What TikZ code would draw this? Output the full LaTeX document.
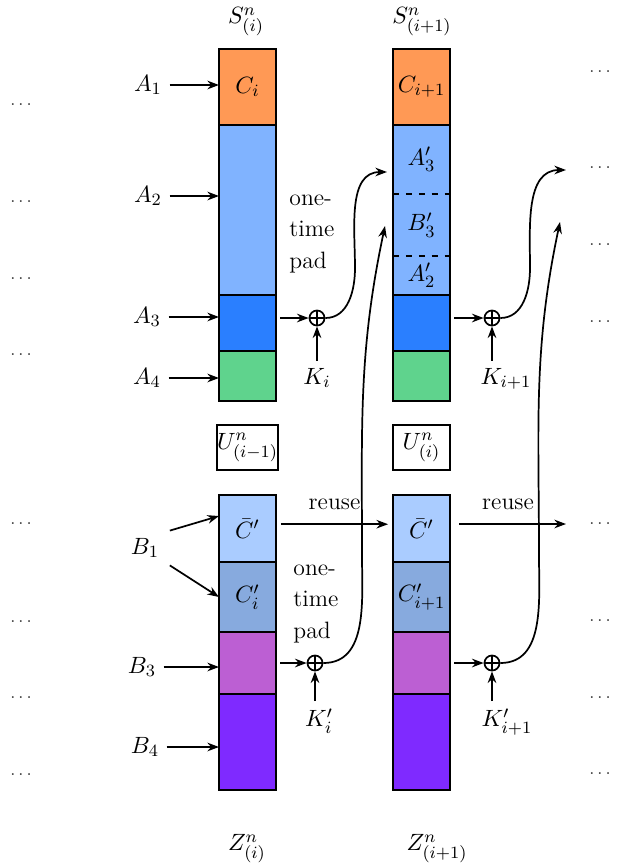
\documentclass[tikz,border=0pt]{standalone}
\usepackage{amsmath,amssymb}
\usetikzlibrary{arrows.meta, positioning, calc}

\newcommand{\pxu}{0.465pt}
\definecolor{corange}{HTML}{FF9955}
\definecolor{clight}{HTML}{80B3FF}
\definecolor{cdark}{HTML}{2A7FFF}
\definecolor{cgreen}{HTML}{5FD38D}
\definecolor{cpale}{HTML}{AACCFF}
\definecolor{cgrey}{HTML}{87AADE}
\definecolor{cpurple}{HTML}{BC5FD3}
\definecolor{cviolet}{HTML}{7F2AFF}

\begin{document}
\begin{tikzpicture}[
    x=\pxu, y=-\pxu,
    node distance=0pt,
    every node/.style={font=\fontsize{11pt}{13.6pt}\selectfont},
    block/.style={rectangle, draw=black, line width=1.1pt, outer sep=0pt, inner sep=0pt, minimum width=57*\pxu, text centered},
    blockfill/.style={rectangle, draw=none, outer sep=0pt, inner sep=0pt, minimum width=57*\pxu, text centered},
    arrow/.style={thick,-{Stealth[length=5.4pt,width=4pt]}},
    xorop/.style={circle, draw=black, thick, minimum size=7pt, inner sep=0pt,
        path picture={\draw[thick] (path picture bounding box.north) -- (path picture bounding box.south)
            (path picture bounding box.west) -- (path picture bounding box.east);}},
    pad/.style={align=left, inner sep=0pt},
    dots/.style={font=\footnotesize, inner sep=0pt, text=black!80},
]
    \useasboundingbox (0,0) rectangle (621,867);

    % State column i
    \node (s0) at (246,22) {$S^n_{(i)}$};
    \node (ci0) [block, fill=corange, minimum height=76*\pxu] at (247.5,87) {$C_i$};
    \node (a2blk0) [block, fill=clight, minimum height=170*\pxu, below=of ci0] {};
    \node (a3blk0) [block, fill=cdark, minimum height=56*\pxu, below=of a2blk0] {};
    \node (a4blk0) [block, fill=cgreen, minimum height=50*\pxu, below=of a3blk0] {};

    % State column i+1
    \node (s1) at (422,22) {$S^n_{(i+1)}$};
    \node (ci1) [block, fill=corange, minimum height=76*\pxu] at (421.5,87) {$C_{i+1}$};
    \node (a3p) [blockfill, fill=clight, minimum height=69*\pxu, below=of ci1] {$A'_3$};
    \node (b3p) [blockfill, fill=clight, minimum height=62*\pxu, below=of a3p] {$B'_3$};
    \node (a2p) [blockfill, fill=clight, minimum height=39*\pxu, below=of b3p] {$A'_2$};
    \draw [line width=1.1pt] (a3p.north west) rectangle (a2p.south east);
    \draw [thick, dashed] (a3p.south west) -- (a3p.south east);
    \draw [thick, dashed] (b3p.south west) -- (b3p.south east);
    \node (a3blk1) [block, fill=cdark, minimum height=56*\pxu, below=of a2p] {};
    \node (a4blk1) [block, fill=cgreen, minimum height=50*\pxu, below=of a3blk1] {};

    % Inputs A
    \node (la1) at (148,85) {$A_1$};
    \node (la2) at (148,196) {$A_2$};
    \node (la3) at (147,317) {$A_3$};
    \node (la4) at (147,378) {$A_4$};
    \draw [arrow] (la1) -- (la1 -| ci0.west);
    \draw [arrow] (la2) -- (la2 -| a2blk0.west);
    \draw [arrow] (la3) -- (la3 -| a3blk0.west);
    \draw [arrow] (la4) -- (la4 -| a4blk0.west);

    % One-time pad, top
    \node (pad0) [pad] at (312,234) {one-\\[1pt]time\\[1pt]pad};
    \node (x0) [xorop] at (317,318) {};
    \node (x1) [xorop] at (492,318) {};
    \node (k0) at (317,378) {$K_i$};
    \node (k1) at (506,379) {$K_{i+1}$};
    \coordinate (in0) at (387,172);
    \coordinate (in1) at (566,170);
    \draw [arrow, shorten <=2pt] (a3blk0.east |- x0) -- (x0);
    \draw [arrow, shorten <=2pt] (a3blk1.east |- x1) -- (x1);
    \draw [arrow] (k0) -- (x0);
    \draw [arrow] (x1 |- k1.north) -- (x1);
    \draw [arrow] (x0) to[out=0, in=-90] (355,268) to[out=90, in=180] (in0);
    \draw [arrow] (x1) to[out=0, in=-90] (530,268) to[out=90, in=180] (in1);

    % Counters
    \node (u0) [block, minimum height=45*\pxu] at (247.5,447.5) {$U^n_{(i-1)}$};
    \node (u1) [block, minimum height=45*\pxu] at (421.5,447.5) {$U^n_{(i)}$};

    % Key column i
    \node (cbar0) [block, fill=cpale, minimum height=67*\pxu] at (247.5,528.5) {$\bar{C}'$};
    \node (cp0) [block, fill=cgrey, minimum height=70*\pxu, below=of cbar0] {$C'_i$};
    \node (b3blk0) [block, fill=cpurple, minimum height=62*\pxu, below=of cp0] {};
    \node (b4blk0) [block, fill=cviolet, minimum height=96*\pxu, below=of b3blk0] {};
    \node (z0) at (247,849) {$Z^n_{(i)}$};

    % Key column i+1
    \node (cbar1) [block, fill=cpale, minimum height=67*\pxu] at (421.5,528.5) {$\bar{C}'$};
    \node (cp1) [block, fill=cgrey, minimum height=70*\pxu, below=of cbar1] {$C'_{i+1}$};
    \node (b3blk1) [block, fill=cpurple, minimum height=62*\pxu, below=of cp1] {};
    \node (b4blk1) [block, fill=cviolet, minimum height=96*\pxu, below=of b3blk1] {};
    \node (z1) at (437,849) {$Z^n_{(i+1)}$};

    % Inputs B
    \node (lb1) at (145,548) {$B_1$};
    \node (lb3) at (142,667) {$B_3$};
    \node (lb4) at (145,747) {$B_4$};
    \draw [arrow] ([xshift=1.5pt]lb1.north east) -- ([yshift=5.8pt]cbar0.west);
    \draw [arrow] ([xshift=1.5pt]lb1.south east) -- (cp0.west);
    \draw [arrow] (lb3) -- (lb3 -| b3blk0.west);
    \draw [arrow] (lb4) -- (lb4 -| b4blk0.west);

    % Reuse
    \coordinate (out1) at (566,524);
    \draw [arrow, shorten <=2.3pt, shorten >=2.3pt] ([yshift=2pt]cbar0.east) -- node[above, yshift=3pt] {reuse} ([yshift=2pt]cbar1.west);
    \draw [arrow, shorten <=4.2pt] (cbar1.east |- out1) -- node[above, yshift=3pt] {reuse} (out1);

    % One-time pad, bottom
    \node (pad1) [pad] at (316,604) {one-\\[1pt]time\\[1pt]pad};
    \node (x2) [xorop] at (315,663) {};
    \node (x3) [xorop] at (492,663) {};
    \node (k2) at (319,721) {$K'_i$};
    \node (k3) at (507,722) {$K'_{i+1}$};
    \coordinate (in2) at (385,226);
    \coordinate (in3) at (560,222);
    \draw [arrow, shorten <=2pt] (b3blk0.east |- x2) -- (x2);
    \draw [arrow, shorten <=2pt] (b3blk1.east |- x3) -- (x3);
    \draw [arrow] (x2 |- k2.north) -- (x2);
    \draw [arrow] (x3 |- k3.north) -- (x3);
    \draw [arrow] (x2) to[out=0, in=-90] (362,555) to[out=90, in=-102] (in2);
    \draw [arrow] (x3) to[out=0, in=-90] (539,555) to[out=90, in=-102] (in3);

    % Dots
    \foreach \y in {105,202,279,355,524,622,698,775}
        \node (dl\y) [dots] at (21,\y) {$\ldots$};
    \foreach \y in {72,168,245,322,524,621,698,774}
        \node (dr\y) [dots] at (600,\y) {$\ldots$};
\end{tikzpicture}
\end{document}
